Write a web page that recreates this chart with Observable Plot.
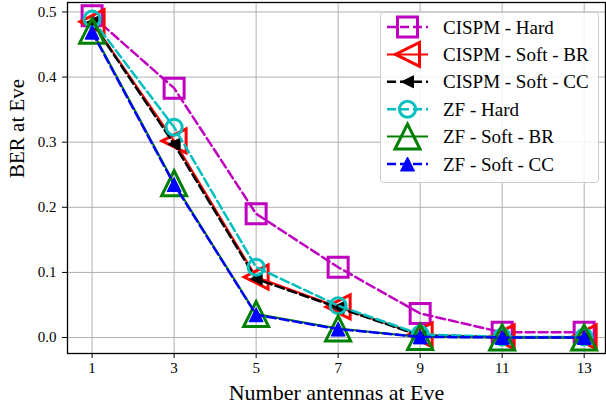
<!DOCTYPE html>
<html>
<head>
<meta charset="utf-8">
<script src="https://cdn.jsdelivr.net/npm/d3@7"></script>
<script src="https://cdn.jsdelivr.net/npm/@observablehq/plot@0.6"></script>
<style>
  html, body { margin: 0; padding: 0; background: #fff; }
  #chart { position: relative; width: 606px; height: 410px; }
</style>
</head>
<body>
<div id="chart"></div>
<script>
// ---- data ----
const antennas = [1, 3, 5, 7, 9, 11, 13];
const cispmHard   = [0.494, 0.383, 0.190, 0.108, 0.037, 0.008, 0.008];
const cispmSoftBR = [0.485, 0.302, 0.093, 0.047, 0.004, 0.001, 0.001];
const cispmSoftCC = [0.484, 0.297, 0.090, 0.046, 0.003, 0.0005, 0.0003];
const zfHard      = [0.489, 0.323, 0.108, 0.049, 0.005, 0.001, 0.001];
const zfSoftBR    = [0.471, 0.237, 0.036, 0.014, 0.001, 0.0002, 0.0001];
const zfSoftCC    = [0.469, 0.235, 0.035, 0.013, 0.001, 0.0002, 0.0001];
const seriesNames = ["CISPM - Hard", "CISPM - Soft - BR", "CISPM - Soft - CC", "ZF - Hard", "ZF - Soft - BR", "ZF - Soft - CC"];
const xTicks = [1, 3, 5, 7, 9, 11, 13];
const yTicks = [0, 0.1, 0.2, 0.3, 0.4, 0.5];
const xLabel = "Number antennas at Eve";
const yLabel = "BER at Eve";

const FONT = "'Liberation Serif', 'Times New Roman', serif";

// ---- custom symbols (r = sqrt(size/π)) ----
const rad = size => Math.sqrt(size / Math.PI);
const symSquare = {draw(c, s) { const r = rad(s); c.rect(-r, -r, 2 * r, 2 * r); }};
const symCircle = {draw(c, s) { const r = rad(s); c.moveTo(r, 0); c.arc(0, 0, r, 0, 2 * Math.PI); c.closePath(); }};
const symTriLeft = {draw(c, s) { const r = rad(s); c.moveTo(-r, 0); c.lineTo(r, -r); c.lineTo(r, r); c.closePath(); }};
const symTriUp = {draw(c, s) { const r = rad(s); c.moveTo(0, -r); c.lineTo(-r, r); c.lineTo(r, r); c.closePath(); }};

const valuesList = [cispmHard, cispmSoftBR, cispmSoftCC, zfHard, zfSoftBR, zfSoftCC];
const styles = [
  {color: "#bf00bf", dash: "9,4", lw: 2.5, sym: symSquare, r: 10, fill: "none", sw: 3},
  {color: "#ff0000", dash: null, lw: 2, sym: symTriLeft, r: 12, fill: "none", sw: 3},
  {color: "#000000", dash: "9,4", lw: 2.5, sym: symTriLeft, r: 6, fill: "#000000", sw: 1},
  {color: "#00bfbf", dash: "9,4", lw: 2.5, sym: symCircle, r: 8, fill: "none", sw: 3},
  {color: "#008000", dash: null, lw: 2, sym: symTriUp, r: 12.5, fill: "none", sw: 3},
  {color: "#0000ff", dash: "9,4", lw: 2.5, sym: symTriUp, r: 7, fill: "#0000ff", sw: 1}
];

const series = seriesNames.map((name, i) => ({
  name,
  data: antennas.map((a, j) => ({x: a, y: valuesList[i][j]})),
  ...styles[i]
}));

const marks = [
  Plot.gridX(xTicks, {stroke: "#b0b0b0", strokeOpacity: 1, strokeWidth: 1}),
  Plot.gridY(yTicks, {stroke: "#b0b0b0", strokeOpacity: 1, strokeWidth: 1}),
  Plot.axisX(xTicks, {tickSize: 5, tickPadding: 4, fontSize: 15, label: null}),
  Plot.axisY(yTicks, {tickSize: 5, tickPadding: 6, fontSize: 15, label: null, tickFormat: d3.format(".1f")})
];
for (const s of series) {
  marks.push(Plot.line(s.data, {x: "x", y: "y", stroke: s.color, strokeWidth: s.lw, strokeDasharray: s.dash || undefined}));
  marks.push(Plot.dot(s.data, {x: "x", y: "y", symbol: s.sym, r: s.r, stroke: s.color, fill: s.fill, strokeWidth: s.sw}));
}
marks.push(Plot.frame({stroke: "#000", strokeWidth: 1.3}));
marks.push(Plot.text([xLabel], {frameAnchor: "bottom", dy: 46, text: d => d, fontSize: 22, fill: "#000"}));
marks.push(Plot.text([yLabel], {frameAnchor: "left", dx: -50, rotate: -90, text: d => d, fontSize: 21, fill: "#000"}));

const chart = Plot.plot({
  width: 606,
  height: 410,
  marginLeft: 67,
  marginRight: 1,
  marginTop: 2,
  marginBottom: 57,
  style: {fontFamily: FONT, fontSize: "15px", color: "#000", background: "#fff", overflow: "visible"},
  x: {domain: [0.4, 13.52], ticks: xTicks},
  y: {domain: [-0.0245, 0.5145], ticks: yTicks},
  marks
});
document.getElementById("chart").appendChild(chart);

// ---- legend (drawn into the same SVG) ----
const svg = d3.select(chart);
const lg = svg.append("g").style("font-family", FONT).attr("text-anchor", "start");
lg.append("rect").attr("x", 380.5).attr("y", 12.5).attr("width", 218).attr("height", 170).attr("rx", 3)
  .attr("fill", "#fff").attr("fill-opacity", 0.85).attr("stroke", "#cccccc").attr("stroke-width", 1);
series.forEach((s, i) => {
  const y = 27 + i * 27.4;
  lg.append("line").attr("x1", 387).attr("x2", 428).attr("y1", y).attr("y2", y)
    .attr("stroke", s.color).attr("stroke-width", s.lw).attr("stroke-dasharray", s.dash);
  lg.append("path").attr("transform", `translate(407.5,${y})`)
    .attr("d", d3.symbol(s.sym, Math.PI * s.r * s.r)())
    .attr("fill", s.fill === "none" ? "none" : s.fill).attr("stroke", s.color).attr("stroke-width", s.sw);
  lg.append("text").attr("x", 443).attr("y", y).attr("dy", "0.35em")
    .style("font-family", FONT).style("font-size", "19px").attr("text-anchor", "start")
    .attr("fill", "#000").text(s.name);
});
</script>
</body>
</html>
